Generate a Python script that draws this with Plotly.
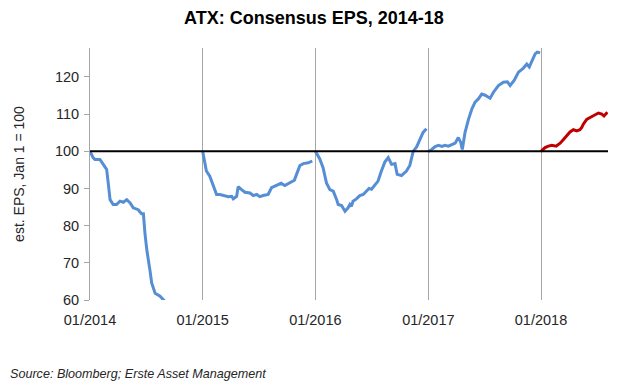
import plotly.graph_objects as go

# ---- data ----
dates_2014 = ["2014-01-01", "2014-01-11", "2014-01-17", "2014-02-02", "2014-02-13", "2014-02-24",
              "2014-03-01", "2014-03-07", "2014-03-17", "2014-03-28", "2014-04-08", "2014-04-19",
              "2014-04-30", "2014-05-11", "2014-05-21", "2014-06-06", "2014-06-17", "2014-06-23",
              "2014-06-28", "2014-07-04", "2014-07-14", "2014-07-20", "2014-07-31", "2014-08-16",
              "2014-09-02"]
eps_2014 = [100, 98.3, 97.8, 97.8, 96.5, 95.1, 91.5, 87.0, 85.7, 85.7, 86.6, 86.3,
            87.0, 86.1, 84.8, 84.3, 83.2, 83.2, 78.0, 73.5, 68.1, 64.5, 61.8, 61.0, 59.5]

dates_2015 = ["2015-01-01", "2015-01-13", "2015-01-24", "2015-02-04", "2015-02-15", "2015-02-26",
              "2015-03-14", "2015-03-25", "2015-04-05", "2015-04-10", "2015-04-21", "2015-04-26",
              "2015-05-07", "2015-05-18", "2015-06-03", "2015-06-14", "2015-06-25", "2015-07-05",
              "2015-07-16", "2015-08-01", "2015-08-12", "2015-08-29", "2015-09-12", "2015-09-24",
              "2015-10-11", "2015-10-25", "2015-11-01", "2015-11-12", "2015-11-23", "2015-12-09",
              "2015-12-22"]
eps_2015 = [100, 94.7, 93.3, 91.1, 88.4, 88.4, 88.1, 87.8, 87.9, 87.2, 87.9, 90.5,
            89.7, 89.0, 88.8, 88.1, 88.4, 87.8, 88.1, 88.4, 90.2, 90.8, 91.4, 90.8,
            91.5, 92.2, 93.8, 96.2, 96.7, 96.9, 97.4]

dates_2016 = ["2016-01-01", "2016-01-15", "2016-01-26", "2016-02-06", "2016-02-17", "2016-02-28",
              "2016-03-10", "2016-03-15", "2016-03-26", "2016-04-06", "2016-04-16", "2016-04-22",
              "2016-04-27", "2016-05-02", "2016-05-13", "2016-05-24", "2016-06-04", "2016-06-15",
              "2016-06-23", "2016-07-01", "2016-07-12", "2016-07-22", "2016-08-02", "2016-08-13",
              "2016-08-24", "2016-09-04", "2016-09-15", "2016-09-22", "2016-10-06", "2016-10-22",
              "2016-11-02", "2016-11-13", "2016-11-24", "2016-12-05", "2016-12-15", "2016-12-26"]
eps_2016 = [100, 98.0, 95.6, 91.5, 89.7, 89.3, 87.0, 85.7, 85.4, 83.9, 84.8, 85.7,
            85.2, 86.6, 87.2, 88.1, 88.4, 89.3, 90.0, 89.8, 91.1, 92.0, 94.7, 97.1,
            98.3, 96.5, 96.7, 93.8, 93.5, 94.7, 96.2, 100.0, 101.2, 103.2, 105.1, 106.1]

dates_2017 = ["2017-01-01", "2017-01-12", "2017-01-23", "2017-02-03", "2017-02-14", "2017-02-24",
              "2017-03-07", "2017-03-18", "2017-03-29", "2017-04-08", "2017-04-16", "2017-04-21",
              "2017-04-30", "2017-05-11", "2017-05-22", "2017-06-01", "2017-06-12", "2017-06-23",
              "2017-07-04", "2017-07-20", "2017-07-31", "2017-08-16", "2017-09-01", "2017-09-14",
              "2017-09-23", "2017-10-06", "2017-10-20", "2017-11-05", "2017-11-16", "2017-11-24",
              "2017-12-02", "2017-12-13", "2017-12-20", "2017-12-29"]
eps_2017 = [100, 100.5, 101.3, 101.6, 101.3, 101.6, 101.4, 101.9, 102.2, 103.7, 102.4, 100.5,
            105.1, 108.6, 111.4, 113.2, 114.1, 115.4, 115.1, 114.3, 115.9, 117.7, 118.6, 118.7,
            117.7, 119.1, 121.3, 122.4, 123.5, 122.7, 124.4, 126.2, 126.7, 126.5]

dates_2018 = ["2018-01-01", "2018-01-14", "2018-01-25", "2018-02-05", "2018-02-19", "2018-03-04",
              "2018-03-14", "2018-03-25", "2018-04-05", "2018-04-16", "2018-04-27", "2018-05-07",
              "2018-05-13", "2018-05-18", "2018-05-29", "2018-06-09", "2018-06-25", "2018-07-06",
              "2018-07-17", "2018-07-24", "2018-08-04"]
eps_2018 = [100, 101.0, 101.4, 101.6, 101.4, 102.2, 103.1, 104.1, 105.2, 105.8, 105.5, 105.8,
            106.4, 107.3, 108.6, 109.1, 109.7, 110.3, 110.0, 109.5, 110.5]

series = [
    ("2014", dates_2014, eps_2014, "#558ED5"),
    ("2015", dates_2015, eps_2015, "#558ED5"),
    ("2016", dates_2016, eps_2016, "#558ED5"),
    ("2017", dates_2017, eps_2017, "#558ED5"),
    ("2018", dates_2018, eps_2018, "#C00000"),
]

y_ticks = [60, 70, 80, 90, 100, 110, 120]
x_start, x_end = "2014-01-01", "2018-08-06"
baseline = 100

FONT = "Liberation Sans, Arial, sans-serif"

fig = go.Figure()
for name, d, v, c in series:
    fig.add_trace(go.Scatter(x=d, y=v, mode="lines", name=name,
                             line=dict(color=c, width=3), showlegend=False,
                             hoverinfo="x+y"))

fig.add_shape(type="line", xref="paper", x0=0, x1=1, yref="y", y0=baseline, y1=baseline,
              line=dict(color="black", width=2), layer="above")

fig.update_layout(
    width=628, height=385,
    margin=dict(l=90, r=20, t=48, b=85),
    paper_bgcolor="white", plot_bgcolor="white",
    font=dict(family=FONT, size=14.5, color="#262626"),
    title=dict(text="<b>ATX: Consensus EPS, 2014-18</b>", x=0.5, xref="container",
               xanchor="center", y=1 - 17.5 / 385, yref="container", yanchor="middle",
               font=dict(family=FONT, size=18, color="#000000")),
    xaxis=dict(type="date", range=[x_start, x_end], tick0=x_start, dtick="M12",
               tickformat="%m/%Y", showgrid=True, gridcolor="#a6a6a6", gridwidth=1,
               showline=False, zeroline=False, ticks="", ticklabelstandoff=9),
    yaxis=dict(range=[60, 127.8], tickvals=y_ticks, showgrid=False, zeroline=False,
               showline=True, linecolor="#a6a6a6", linewidth=1,
               ticks="outside", ticklen=5, tickcolor="#a6a6a6",
               ticklabelstandoff=2,
               title=dict(text="est. EPS, Jan 1 = 100", font=dict(size=14, color="#262626"),
                          standoff=26)),
    annotations=[dict(text="<i>Source: Bloomberg; Erste Asset Management</i>",
                      xref="paper", yref="paper", x=-0.158, y=-0.294, showarrow=False,
                      xanchor="left", yanchor="middle",
                      font=dict(family=FONT, size=12.6, color="#262626"))],
)

fig.write_html("out.html", config={"displayModeBar": False},
               post_script="document.body.style.margin='0';document.body.style.padding='0';")
